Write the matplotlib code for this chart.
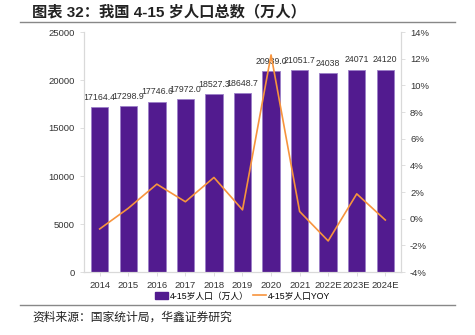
import matplotlib.pyplot as plt
from matplotlib.lines import Line2D
from matplotlib.ticker import FuncFormatter

plt.rcParams['font.family'] = ['Liberation Sans', 'Noto Sans CJK SC', 'DejaVu Sans']

years = ['2014', '2015', '2016', '2017', '2018', '2019', '2020', '2021', '2022E', '2023E', '2024E']
population = [17164.4, 17298.9, 17746.6, 17972.0, 18527.3, 18648.7, 20939.0, 21051.7, 20700, 21085, 21065]
bar_labels = ['17164.4', '17298.9', '17746.6', '17972.0', '18527.3', '18648.7', '20939.0', '21051.7', '24038', '24071', '24120']
yoy = [-0.77, 0.78, 2.59, 1.27, 3.09, 0.66, 12.28, 0.54, -1.67, 1.86, -0.1]

purple = '#521b8f'
orange = '#f7943d'
gray = '#d9d9d9'

fig = plt.figure(figsize=(4.75, 3.35), dpi=100)
ax = fig.add_axes([84/475, 1-272/335, 317/475, 240/335])
x = range(len(years))
bars = ax.bar(x, population, width=0.61, color=purple, edgecolor='#9b7fc8', linewidth=0.6)
for xi, h, lab in zip(x, population, bar_labels):
    ax.text(xi, h + 550, lab, ha='center', va='bottom', fontsize=6.3, color='#333333')
ax.set_ylim(0, 25000)
ax.set_yticks(range(0, 25001, 5000))
ax.set_xlim(-0.55, len(years) - 0.45)
ax.set_xticks(list(x))
ax.set_xticklabels(years)

ax2 = ax.twinx()
ax2.plot(x, yoy, color=orange, linewidth=1.2)
ax2.set_ylim(-4, 14)
ax2.set_yticks(range(-4, 15, 2))
ax2.yaxis.set_major_formatter(FuncFormatter(lambda v, p: f'{int(v)}%'))

for a in (ax, ax2):
    a.spines['top'].set_visible(False)
    for s in ('left', 'right', 'bottom'):
        a.spines[s].set_color(gray)
    a.tick_params(labelsize=6.8, colors='#333333', length=3, width=0.6)
    a.tick_params(axis='both', color=gray)

handles = [plt.Rectangle((0, 0), 1, 1, color=purple),
           Line2D([0], [0], color=orange, linewidth=1.2)]
fig.legend(handles, ['4-15岁人口（万人）', '4-15岁人口YOY'], loc='center',
           bbox_to_anchor=(243/475, 1-296/335), ncol=2, frameon=False,
           fontsize=6.3, handlelength=1.4, handleheight=0.8, columnspacing=0.5,
           handletextpad=0.3, borderpad=0.1)

fig.text(32/475, 1-12/335, '图表 32：我国 4-15 岁人口总数（万人）', fontsize=11,
         fontweight='bold', va='center', ha='left', color='#222222')
fig.add_artist(Line2D([20/475, 455/475], [1-22/335, 1-22/335], color='#888888', linewidth=1.0))
fig.add_artist(Line2D([20/475, 455/475], [1-305/335, 1-305/335], color='#888888', linewidth=1.0))
fig.text(32/475, 1-318/335, '资料来源：国家统计局，华鑫证券研究', fontsize=8.5,
         va='center', ha='left', color='#222222')

fig.savefig('out.png', dpi=100)
